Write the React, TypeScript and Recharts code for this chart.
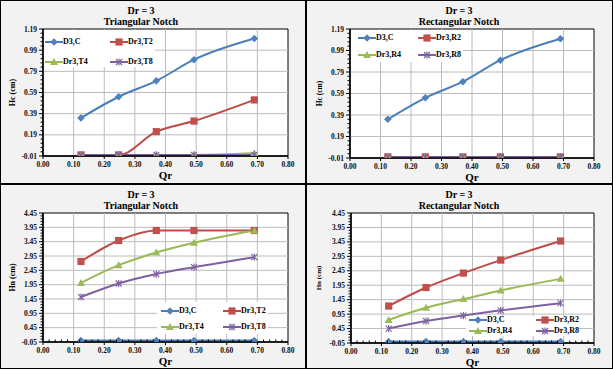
import React from "react";
import { LineChart, Line, XAxis, YAxis, ReferenceLine, ReferenceArea, Legend, Label } from "recharts";

const qr = [0.124, 0.247, 0.37, 0.493, 0.69];
const qrTicks = [0, 0.1, 0.2, 0.3, 0.4, 0.5, 0.6, 0.7, 0.8];
const hcTicks = [-0.01, 0.19, 0.39, 0.59, 0.79, 0.99, 1.19];
const hnTicks = [-0.05, 0.45, 0.95, 1.45, 1.95, 2.45, 2.95, 3.45, 3.95, 4.45];

// Hc (cm)
const hcTriC = [0.35, 0.55, 0.7, 0.9, 1.1];
const hcTriT2 = [0, 0, 0.22, 0.32, 0.52];
const hcTriT4 = [0, 0, 0, 0, 0.015];
const hcTriT8 = [0, 0, 0, 0, 0];
const hcRectC = [0.35, 0.55, 0.7, 0.9, 1.1];
const hcRectR2 = [0, 0, 0, 0, 0];
const hcRectR4 = [0, 0, 0, 0, 0];
const hcRectR8 = [0, 0, 0, 0, 0];

// Hn (cm)
const hnTriC = [0, 0, 0, 0, 0];
const hnTriT2 = [2.76, 3.49, 3.84, 3.84, 3.84];
const hnTriT4 = [2.01, 2.63, 3.07, 3.41, 3.84];
const hnTriT8 = [1.52, 1.99, 2.32, 2.56, 2.91];
const hnRectC = [0, 0, 0, 0, 0];
const hnRectR2 = [1.23, 1.87, 2.37, 2.82, 3.48];
const hnRectR4 = [0.75, 1.17, 1.47, 1.77, 2.17];
const hnRectR8 = [0.45, 0.71, 0.9, 1.08, 1.33];

const SERIF = '"Liberation Serif", "Times New Roman", serif';

const BLUE = { color: "#4A7EBB", fill: "#4F81BD", shape: "diamond" };
const RED = { color: "#BE4B48", fill: "#C0504D", shape: "square" };
const GREEN = { color: "#98B954", fill: "#9BBB59", shape: "triangle" };
const PURPLE = { color: "#7D60A0", fill: "#8064A2", shape: "star" };

const triSeries = [
  { key: "c", name: "D3,C", ...BLUE },
  { key: "s2", name: "Dr3,T2", ...RED },
  { key: "s4", name: "Dr3,T4", ...GREEN },
  { key: "s8", name: "Dr3,T8", ...PURPLE },
];
const rectSeries = [
  { key: "c", name: "D3,C", ...BLUE },
  { key: "s2", name: "Dr3,R2", ...RED },
  { key: "s4", name: "Dr3,R4", ...GREEN },
  { key: "s8", name: "Dr3,R8", ...PURPLE },
];

function buildRows(cols: Record<string, number[]>) {
  return qr.map((q, i) => {
    const row: any = { qr: q };
    for (const k in cols) row[k] = cols[k][i];
    return row;
  });
}

function withMinor(majors: number[], div: number) {
  const out: number[] = [];
  for (let i = 0; i < majors.length - 1; i++) {
    for (let j = 0; j < div; j++) out.push(majors[i] + ((majors[i + 1] - majors[i]) * j) / div);
  }
  out.push(majors[majors.length - 1]);
  return out;
}

const isMajor = (majors: number[], v: number) => majors.some((t) => Math.abs(t - v) < 1e-6);

function Marker({ shape, cx, cy, color }: any) {
  if (shape === "diamond")
    return <polygon points={`${cx},${cy - 3.8} ${cx + 3.8},${cy} ${cx},${cy + 3.8} ${cx - 3.8},${cy}`} fill={color} />;
  if (shape === "square") return <rect x={cx - 3.6} y={cy - 3.6} width={7.2} height={7.2} fill={color} />;
  if (shape === "triangle")
    return <polygon points={`${cx},${cy - 4} ${cx + 4},${cy + 3} ${cx - 4},${cy + 3}`} fill={color} />;
  return (
    <g stroke={color} strokeWidth={1.2}>
      <line x1={cx - 3} y1={cy - 3} x2={cx + 3} y2={cy + 3} />
      <line x1={cx - 3} y1={cy + 3} x2={cx + 3} y2={cy - 3} />
      <line x1={cx} y1={cy - 3.6} x2={cx} y2={cy + 3.6} />
    </g>
  );
}

function Panel(props: any) {
  const { x, y, w, h, notch, rows, series, yTicks, yDiv, yLabel, xMinor, yw, mr, xh, titleX, lb, yLabelSize } = props;
  const yAll = withMinor(yTicks, yDiv);
  const xAll = xMinor ? withMinor(qrTicks, 5) : qrTicks;
  const yMin = yTicks[0];
  const yMax = yTicks[yTicks.length - 1];

  const yTick = (p: any) => {
    const v = p.payload.value;
    const major = isMajor(yTicks, v);
    return (
      <g>
        <line x1={p.x - (major ? 4 : 2.5)} x2={p.x} y1={p.y} y2={p.y} stroke="#000" strokeWidth={1} />
        {major && (
          <text x={p.x - 6} y={p.y + 2.6} textAnchor="end" fontFamily={SERIF} fontWeight={700} fontSize={7.5} fill="#111">
            {v.toFixed(2)}
          </text>
        )}
      </g>
    );
  };
  const xTick = (p: any) => {
    const v = p.payload.value;
    const major = isMajor(qrTicks, v);
    if (!major) return <line x1={p.x} x2={p.x} y1={p.y} y2={p.y - 2.5} stroke="#000" strokeWidth={1} />;
    return (
      <g>
        <line x1={p.x} x2={p.x} y1={p.y} y2={p.y + 3} stroke="#000" strokeWidth={1} />
        <text x={p.x} y={p.y + 11.2} textAnchor="middle" fontFamily={SERIF} fontWeight={700} fontSize={7.5} fill="#111">
          {v.toFixed(2)}
        </text>
      </g>
    );
  };

  const legendContent = () => (
    <div style={{ position: "relative", width: lb.w, height: lb.h, background: "#fff" }}>
      {series.map((s: any, i: number) => (
        <div
          key={s.key}
          style={{
            position: "absolute",
            left: lb.dx + (i % 2) * lb.colGap,
            top: lb.dy + Math.floor(i / 2) * lb.rowGap - 5,
            height: 10,
            display: "flex",
            alignItems: "center",
            whiteSpace: "nowrap",
          }}
        >
          <svg width={18} height={10} style={{ display: "block" }}>
            <line x1={0} y1={5} x2={18} y2={5} stroke={s.color} strokeWidth={2} />
            <Marker shape={s.shape} cx={9} cy={5} color={s.fill} />
          </svg>
          <span style={{ fontFamily: SERIF, fontWeight: 700, fontSize: 8, color: "#000", lineHeight: "10px" }}>{s.name}</span>
        </div>
      ))}
    </div>
  );

  return (
    <div style={{ position: "absolute", left: x, top: y, width: w, height: h }}>
      <div
        style={{
          position: "absolute",
          left: titleX - 100,
          top: 5,
          width: 200,
          textAlign: "center",
          fontFamily: SERIF,
          fontWeight: 700,
          fontSize: 10,
          lineHeight: "11px",
          color: "#000",
        }}
      >
        <div>Dr = 3</div>
        <div>{notch}</div>
      </div>
      <LineChart width={w} height={h} data={rows} margin={{ top: 29, right: mr, bottom: 0, left: 0 }}>
        <XAxis
          dataKey="qr"
          type="number"
          domain={[0, 0.8]}
          ticks={xAll}
          interval={0}
          tickSize={0}
          tickMargin={0}
          tickLine={false}
          tick={xTick}
          axisLine={{ stroke: "#000", strokeWidth: 1.5 }}
          height={xh}
          allowDataOverflow
        >
          <Label
            content={(lp: any) => {
              const vb = lp.viewBox;
              return (
                <text x={vb.x + vb.width / 2} y={vb.y + 23} textAnchor="middle" fontFamily={SERIF} fontWeight={700} fontSize={11} fill="#000">
                  Qr
                </text>
              );
            }}
          />
        </XAxis>
        <YAxis
          type="number"
          domain={[yMin, yMax]}
          ticks={yAll}
          interval={0}
          tickSize={0}
          tickMargin={0}
          tickLine={false}
          tick={yTick}
          axisLine={{ stroke: "#000", strokeWidth: 1.5 }}
          width={yw}
          allowDataOverflow
        >
          <Label
            content={(lp: any) => {
              const vb = lp.viewBox;
              const cy = vb.y + vb.height / 2;
              return (
                <text
                  x={12}
                  y={cy}
                  transform={`rotate(-90 12 ${cy})`}
                  textAnchor="middle"
                  dominantBaseline="central"
                  fontFamily={SERIF}
                  fontWeight={700}
                  fontSize={yLabelSize}
                  fill="#000"
                >
                  {yLabel}
                </text>
              );
            }}
          />
        </YAxis>
        <ReferenceArea x1={0} x2={0.8} y1={yMin} y2={yMax} fill="#fff" fillOpacity={1} stroke="none" />
        {yTicks.slice(1, -1).map((t: number) => (
          <ReferenceLine key={`h${t}`} y={t} stroke="#bcbcbc" strokeWidth={1} />
        ))}
        {qrTicks.slice(1, -1).map((t: number) => (
          <ReferenceLine key={`v${t}`} x={t} stroke="#bcbcbc" strokeWidth={1} />
        ))}
        <ReferenceArea x1={0} x2={0.8} y1={yMin} y2={yMax} fill="none" stroke="#000" strokeWidth={1} />
        {series.map((s: any) => (
          <Line
            key={s.key}
            type="monotone"
            dataKey={s.key}
            name={s.name}
            stroke={s.color}
            strokeWidth={2}
            isAnimationActive={false}
            activeDot={false}
            dot={(p: any) => <Marker key={`${s.key}-${p.index}`} shape={s.shape} cx={p.cx} cy={p.cy} color={s.fill} />}
          />
        ))}
        <Legend
          layout="horizontal"
          align="center"
          verticalAlign="middle"
          content={legendContent}
          wrapperStyle={{ left: lb.x, top: lb.y, width: lb.w, height: lb.h }}
        />
      </LineChart>
    </div>
  );
}

export default function App() {
  return (
    <div
      style={{
        position: "absolute",
        left: 0,
        top: 0,
        width: 613,
        height: 369,
        background: "#f2f2f2",
        overflow: "hidden",
      }}
    >
      <Panel
        x={0}
        y={0}
        w={306}
        h={184}
        notch="Triangular Notch"
        rows={buildRows({ c: hcTriC, s2: hcTriT2, s4: hcTriT4, s8: hcTriT8 })}
        series={triSeries}
        yTicks={hcTicks}
        yDiv={5}
        yLabel="Hc (cm)"
        yLabelSize={8}
        xMinor={false}
        yw={43}
        mr={18}
        xh={28}
        titleX={141}
        lb={{ x: 44, y: 30, w: 111, h: 37, dx: 1, dy: 12, colGap: 65, rowGap: 20 }}
      />
      <Panel
        x={307}
        y={0}
        w={306}
        h={184}
        notch="Rectangular Notch"
        rows={buildRows({ c: hcRectC, s2: hcRectR2, s4: hcRectR4, s8: hcRectR8 })}
        series={rectSeries}
        yTicks={hcTicks}
        yDiv={5}
        yLabel="Hc (cm)"
        yLabelSize={7.5}
        xMinor={false}
        yw={43}
        mr={19}
        xh={26}
        titleX={152}
        lb={{ x: 44, y: 30, w: 112, h: 32, dx: 7, dy: 8, colGap: 60, rowGap: 17 }}
      />
      <Panel
        x={0}
        y={184}
        w={306}
        h={185}
        notch="Triangular Notch"
        rows={buildRows({ c: hnTriC, s2: hnTriT2, s4: hnTriT4, s8: hnTriT8 })}
        series={triSeries}
        yTicks={hnTicks}
        yDiv={5}
        yLabel="Hn (cm)"
        yLabelSize={8}
        xMinor={true}
        yw={43}
        mr={18}
        xh={27}
        titleX={141}
        lb={{ x: 157, y: 118, w: 111, h: 32, dx: 4, dy: 9, colGap: 62, rowGap: 16 }}
      />
      <Panel
        x={307}
        y={184}
        w={306}
        h={185}
        notch="Rectangular Notch"
        rows={buildRows({ c: hnRectC, s2: hnRectR2, s4: hnRectR4, s8: hnRectR8 })}
        series={rectSeries}
        yTicks={hnTicks}
        yDiv={5}
        yLabel="Hn (cm)"
        yLabelSize={7}
        xMinor={true}
        yw={44}
        mr={19}
        xh={26}
        titleX={152}
        lb={{ x: 159, y: 132, w: 112, h: 20, dx: 3, dy: 4, colGap: 67, rowGap: 11 }}
      />
      <div style={{ position: "absolute", left: 305, top: 0, width: 2, height: 369, background: "#000" }} />
      <div style={{ position: "absolute", left: 0, top: 183, width: 613, height: 2, background: "#000" }} />
      <div
        style={{
          position: "absolute",
          left: 0,
          top: 0,
          width: 613,
          height: 369,
          border: "1px solid #000",
          boxSizing: "border-box",
        }}
      />
    </div>
  );
}
